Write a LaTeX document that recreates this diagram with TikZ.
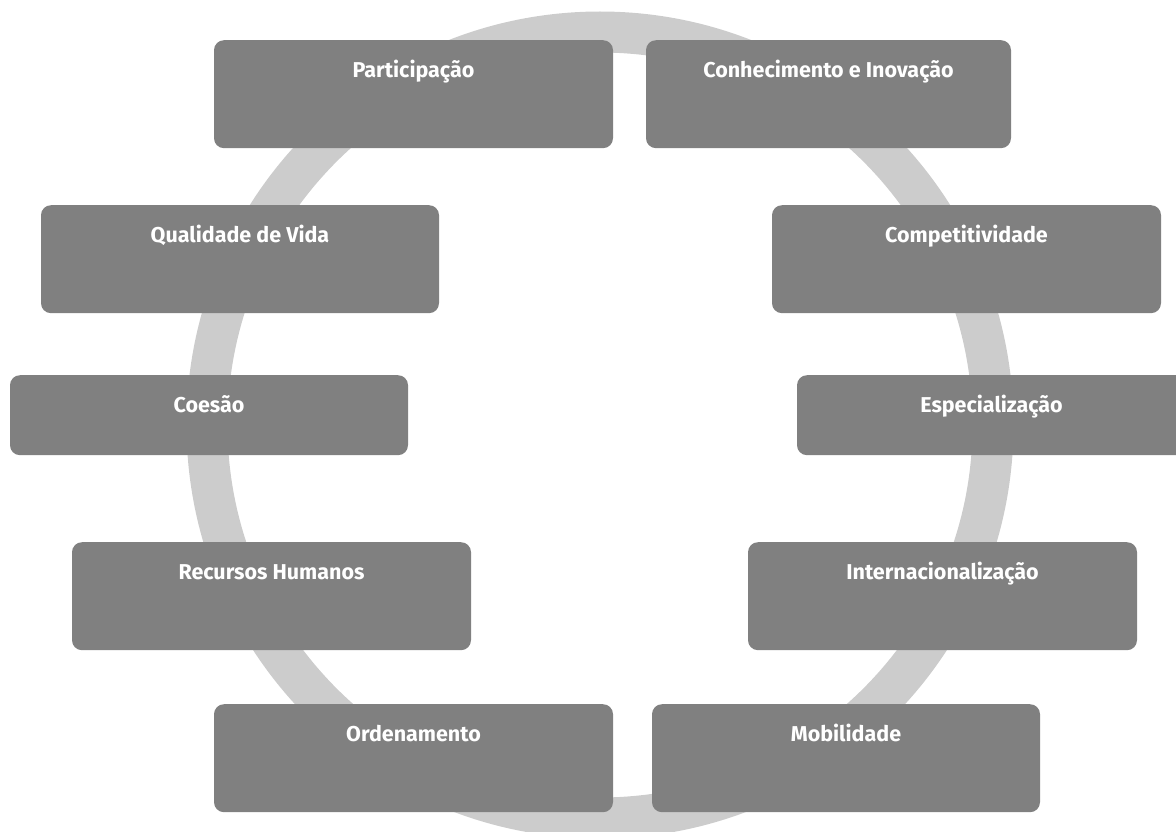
\documentclass[tikz,border=0pt]{standalone}
\usepackage{fontspec}
\setmainfont{Fira Sans}
\definecolor{ringgray}{HTML}{CCCCCC}
\definecolor{boxgray}{HTML}{808080}
\tikzset{
  topic/.style={rectangle, rounded corners=10pt, fill=boxgray, text=white,
    font=\fontsize{21.5}{25}\selectfont\bfseries, inner xsep=0pt, inner ysep=0pt,
    text height=37pt, text depth=71pt, align=center},
  topicshort/.style={topic, text depth=43pt}
}
\begin{document}
\begin{tikzpicture}[x=1pt,y=-1pt]
\useasboundingbox (0,0) rectangle (1176,832);
\clip (0,0) rectangle (1176,832);
\draw[ringgray, line width=41pt] (600,425) circle[radius=393pt];
\node[topic, minimum width=399pt] (p) at (413.5,40) [anchor=north] {Participação};
\node[topic, minimum width=365pt] (c) at (828.5,40) [anchor=north] {Conhecimento e Inovação};
\node[topic, minimum width=398pt] (q) at (240,205) [anchor=north] {Qualidade de Vida};
\node[topic, minimum width=389pt] (comp) at (966.5,205) [anchor=north] {Competitividade};
\node[topicshort, minimum width=398pt] (coe) at (209,375) [anchor=north] {Coesão};
\node[topicshort, minimum width=389pt] (esp) at (991.5,375) [anchor=north] {Especialização};
\node[topic, minimum width=399pt] (rh) at (271.5,542) [anchor=north] {Recursos Humanos};
\node[topic, minimum width=389pt] (int) at (942.5,542) [anchor=north] {Internacionalização};
\node[topic, minimum width=399pt] (ord) at (413.5,704) [anchor=north] {Ordenamento};
\node[topic, minimum width=388pt] (mob) at (846,704) [anchor=north] {Mobilidade};
\end{tikzpicture}
\end{document}
